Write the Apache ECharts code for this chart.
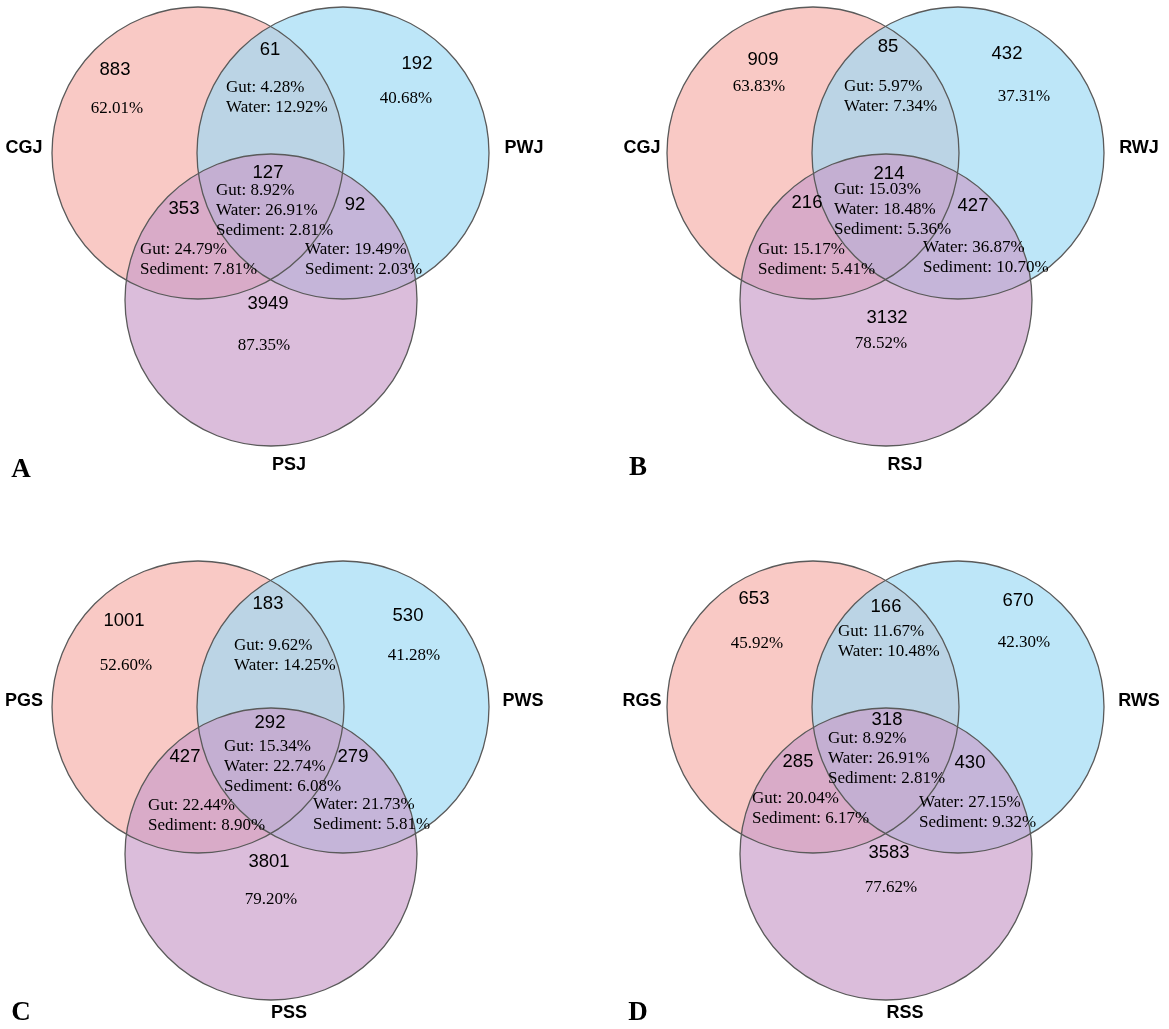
<!DOCTYPE html>
<html>
<head>
<meta charset="utf-8">
<title>Venn</title>
<script src="https://cdn.jsdelivr.net/npm/echarts@6/dist/echarts.min.js"></script>
<style>
html,body{margin:0;padding:0;background:#fff;}
#main{width:1169px;height:1029px;}
</style>
</head>
<body>
<div id="main"></div>
<script>
// panel letters and set names (left, right, bottom circle)
var panelNames = ['A', 'B', 'C', 'D'];
var setNames = [
    ['CGJ', 'PWJ', 'PSJ'],
    ['CGJ', 'RWJ', 'RSJ'],
    ['PGS', 'PWS', 'PSS'],
    ['RGS', 'RWS', 'RSS']
];
// region order: onlyG, onlyW, onlyS, G&W, G&S, W&S, G&W&S
var counts = [
    [883, 192, 3949, 61, 353, 92, 127],
    [909, 432, 3132, 85, 216, 427, 214],
    [1001, 530, 3801, 183, 427, 279, 292],
    [653, 670, 3583, 166, 285, 430, 318]
];
var onlyGut = [62.01, 63.83, 52.60, 45.92];
var onlyWater = [40.68, 37.31, 41.28, 42.30];
var onlySediment = [87.35, 78.52, 79.20, 77.62];
var gutWater = [[4.28, 12.92], [5.97, 7.34], [9.62, 14.25], [11.67, 10.48]];
var gutSediment = [[24.79, 7.81], [15.17, 5.41], [22.44, 8.90], [20.04, 6.17]];
var waterSediment = [[19.49, 2.03], [36.87, 10.70], [21.73, 5.81], [27.15, 9.32]];
var gutWaterSediment = [[8.92, 26.91, 2.81], [15.03, 18.48, 5.36], [15.34, 22.74, 6.08], [8.92, 26.91, 2.81]];

// ---- layout (panel local units) ----
var offsets = [[0, 0], [615, 0], [0, 554], [615, 554]];
var circleLayout = [[198, 153], [343, 153], [271, 300]];
var radius = 146;
var fills = ['rgba(246,175,169,0.67)', 'rgba(157,218,245,0.67)', 'rgba(201,157,201,0.67)'];
var countPos = [
    [[115, 70], [417, 64], [268, 304], [270, 50], [184, 209], [355, 205], [268, 173]],
    [[148, 60], [392, 54], [272, 318], [273, 47], [192, 203], [358, 206], [274, 174]],
    [[124, 67], [408, 62], [269, 308], [268, 50], [185, 203], [353, 203], [270, 169]],
    [[139, 45], [403, 47], [274, 299], [271, 53], [183, 208], [355, 209], [272, 166]]
];
// single % are centred, the others are left aligned (x = left edge, y = first line)
var pctPos = [
    [[117, 109], [406, 99], [264, 346], [226, 88], [140, 250], [305, 250], [216, 191]],
    [[144, 87], [409, 97], [266, 344], [229, 87], [143, 250], [308, 248], [219, 190]],
    [[126, 112], [414, 102], [271, 346], [234, 92], [148, 252], [313, 251], [224, 193]],
    [[142, 90], [409, 89], [276, 334], [223, 78], [137, 245], [304, 249], [213, 185]]
];
var setPos = [[[24, 148], [524, 148], [289, 465]], [[27, 148], [524, 148], [290, 465]],
    [[24, 147], [523, 147], [289, 459]], [[27, 147], [524, 147], [290, 459]]];
var letterPos = [[21, 470], [23, 468], [21, 459], [23, 459]];

var LINE = 20;
var SERIF = '"Liberation Serif","Times New Roman",serif';
var SANS = '"Liberation Sans",Arial,sans-serif';

function pct(v){ return v.toFixed(2) + '%'; }

var circleData = [], textData = [];
panelNames.forEach(function(name, p){
    var o = offsets[p];
    circleLayout.forEach(function(c, i){
        circleData.push([o[0] + c[0], o[1] + c[1], radius, i]);
    });
    var add = function(pos, text, kind, align){
        textData.push({value: [o[0] + pos[0], o[1] + pos[1]], text: text, kind: kind, align: align});
    };
    counts[p].forEach(function(v, i){ add(countPos[p][i], String(v), 'num', 'center'); });
    var pp = pctPos[p];
    add(pp[0], pct(onlyGut[p]), 'pct', 'center');
    add(pp[1], pct(onlyWater[p]), 'pct', 'center');
    add(pp[2], pct(onlySediment[p]), 'pct', 'center');
    add(pp[3], 'Gut: ' + pct(gutWater[p][0]) + '\nWater: ' + pct(gutWater[p][1]), 'pct', 'left');
    add(pp[4], 'Gut: ' + pct(gutSediment[p][0]) + '\nSediment: ' + pct(gutSediment[p][1]), 'pct', 'left');
    add(pp[5], 'Water: ' + pct(waterSediment[p][0]) + '\nSediment: ' + pct(waterSediment[p][1]), 'pct', 'left');
    add(pp[6], 'Gut: ' + pct(gutWaterSediment[p][0]) + '\nWater: ' + pct(gutWaterSediment[p][1]) +
        '\nSediment: ' + pct(gutWaterSediment[p][2]), 'pct', 'left');
    setNames[p].forEach(function(s, i){ add(setPos[p][i], s, 'set', 'center'); });
    add(letterPos[p], name, 'letter', 'center');
});

function circleItem(outline){
    return function(params, api){
        var c = api.coord([api.value(0), api.value(1)]);
        var r = api.size([api.value(2), 0])[0];
        return {
            type: 'circle',
            shape: {cx: c[0], cy: c[1], r: r},
            style: outline ? {fill: 'none', stroke: '#5a5a5a', lineWidth: 1.3}
                           : {fill: fills[api.value(3)]}
        };
    };
}

var fonts = {
    num: 'normal 18.5px ' + SANS,
    pct: 'normal 17px ' + SERIF,
    set: 'bold 18px ' + SANS,
    letter: 'bold 27px ' + SERIF
};

var chart = echarts.init(document.getElementById('main'));
chart.setOption({
    animation: false,
    grid: {left: 0, right: 0, top: 0, bottom: 0},
    xAxis: {type: 'value', min: 0, max: 1169, show: false},
    yAxis: {type: 'value', min: 0, max: 1029, inverse: true, show: false},
    series: [
        {type: 'custom', data: circleData, renderItem: circleItem(false), silent: true, z: 1},
        {type: 'custom', data: circleData, renderItem: circleItem(true), silent: true, z: 2},
        {
            type: 'custom', silent: true, z: 3,
            data: textData.map(function(d){ return d.value; }),
            renderItem: function(params, api){
                var d = textData[params.dataIndex];
                var c = api.coord([api.value(0), api.value(1)]);
                var left = d.align === 'left';
                return {
                    type: 'text',
                    x: c[0],
                    y: left ? c[1] - LINE / 2 : c[1],
                    style: {
                        text: d.text,
                        font: fonts[d.kind],
                        fill: '#000',
                        align: d.align,
                        verticalAlign: left ? 'top' : 'middle',
                        lineHeight: LINE
                    }
                };
            }
        }
    ]
});
</script>
</body>
</html>
